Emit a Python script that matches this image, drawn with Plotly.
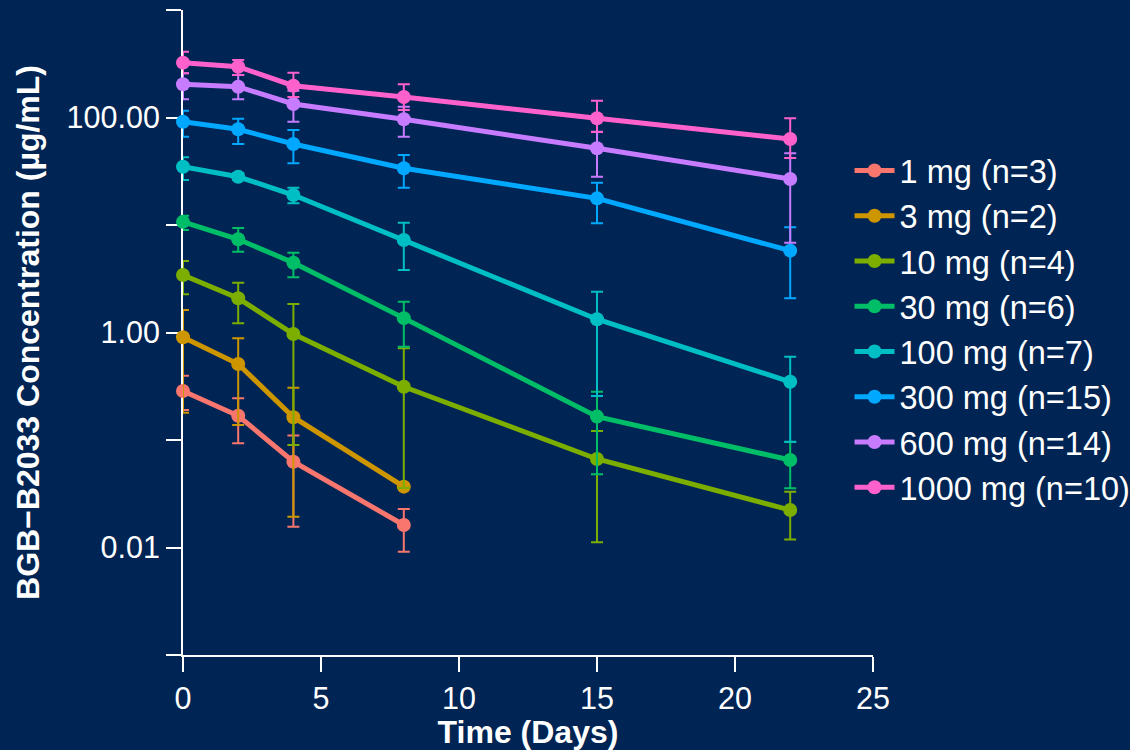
import plotly.graph_objects as go

# ---------------- data ----------------
times_full = [0, 2, 4, 8, 15, 22]
times_short = [0, 2, 4, 8]

dose_labels = ["1 mg (n=3)", "3 mg (n=2)", "10 mg (n=4)", "30 mg (n=6)",
               "100 mg (n=7)", "300 mg (n=15)", "600 mg (n=14)", "1000 mg (n=10)"]

colors = ["#F8766D", "#CD9600", "#7CAE00", "#00BE67",
          "#00BFC4", "#00A9FF", "#C77CFF", "#FF61CC"]

mean_1mg = [0.286, 0.168, 0.0628, 0.0162]
upper_1mg = [0.396, 0.244, 0.110, 0.0228]
lower_1mg = [0.190, 0.0932, 0.0156, 0.00914]

mean_3mg = [0.902, 0.509, 0.163, 0.0368]
upper_3mg = [1.62, 0.883, 0.307, 0.0368]
lower_3mg = [0.179, 0.138, 0.0193, 0.0368]

mean_10mg = [3.43, 2.08, 0.968, 0.313, 0.0666, 0.0223]
upper_10mg = [4.63, 2.91, 1.84, 0.713, 0.121, 0.033]
lower_10mg = [2.27, 1.22, 0.0899, 0.0358, 0.0112, 0.0119]

mean_30mg = [10.7, 7.36, 4.46, 1.36, 0.165, 0.0652]
upper_30mg = [12.2, 9.38, 5.52, 1.93, 0.281, 0.0958]
lower_30mg = [8.99, 5.64, 3.26, 0.738, 0.048, 0.0355]

mean_100mg = [34.8, 28.1, 19.0, 7.25, 1.33, 0.348]
upper_100mg = [42.6, 30.5, 22.2, 10.5, 2.40, 0.595]
lower_100mg = [26.2, 26.2, 15.9, 3.81, 0.257, 0.0964]

mean_300mg = [91.4, 77.7, 56.7, 33.7, 17.7, 5.77]
upper_300mg = [115.7, 97.4, 76.5, 44.8, 24.7, 9.52]
lower_300mg = [66.3, 56.7, 37.5, 22.2, 10.4, 2.08]

mean_600mg = [203.6, 193.4, 133.6, 96.2, 51.7, 26.8]
upper_600mg = [257.8, 248.5, 177.6, 126.1, 73.8, 46.5]
lower_600mg = [147.7, 147.7, 91.4, 66.3, 28.1, 6.84]

mean_1000mg = [323.6, 296.9, 197.6, 155.1, 98.3, 63.1]
upper_1000mg = [409.5, 342.6, 261.1, 203.6, 143.3, 98.3]
lower_1000mg = [257.8, 248.5, 155.1, 117.4, 73.3, 42.0]

y_tick_values = [0.001, 0.01, 0.1, 1, 10, 100, 1000]
y_tick_text = ["", "0.01", "", "1.00", "", "100.00", ""]
x_tick_values = [0, 5, 10, 15, 20, 25]

series = [
    (times_short, mean_1mg, upper_1mg, lower_1mg),
    (times_short, mean_3mg, upper_3mg, lower_3mg),
    (times_full, mean_10mg, upper_10mg, lower_10mg),
    (times_full, mean_30mg, upper_30mg, lower_30mg),
    (times_full, mean_100mg, upper_100mg, lower_100mg),
    (times_full, mean_300mg, upper_300mg, lower_300mg),
    (times_full, mean_600mg, upper_600mg, lower_600mg),
    (times_full, mean_1000mg, upper_1000mg, lower_1000mg),
]

BG = "#002453"
FONT = "Liberation Sans, Arial, sans-serif"

fig = go.Figure()
for (t, m, up, lo), name, col in zip(series, dose_labels, colors):
    fig.add_trace(go.Scatter(
        x=t, y=m, name=name, mode="lines+markers",
        line=dict(color=col, width=5),
        marker=dict(color=col, size=14),
        error_y=dict(type="data", symmetric=False,
                     array=[u - v for u, v in zip(up, m)],
                     arrayminus=[v - l for v, l in zip(m, lo)],
                     color=col, thickness=2, width=6),
        cliponaxis=False,
    ))

fig.update_layout(
    width=1130, height=750,
    paper_bgcolor=BG, plot_bgcolor=BG,
    margin=dict(l=183, r=257, t=10, b=95, autoexpand=False),
    font=dict(family=FONT, color="white", size=30),
    showlegend=True,
    legend=dict(x=0.966, y=0.794, xanchor="left", yanchor="top",
                font=dict(size=32.5, color="white"), bgcolor="rgba(0,0,0,0)",
                itemwidth=40, tracegroupgap=0),
)
fig.update_xaxes(
    range=[0, 25], tickvals=x_tick_values, showline=True, linecolor="white",
    linewidth=2, ticks="outside", ticklen=15, tickwidth=2, tickcolor="white",
    showgrid=False, zeroline=False, layer="below traces",
    tickfont=dict(size=30.5, color="white", family=FONT),
    title=dict(text="<b>Time (Days)</b>", font=dict(size=32, color="white", family=FONT), standoff=0),
)
fig.update_yaxes(
    type="log", range=[-3, 3], tickvals=y_tick_values, ticktext=y_tick_text,
    showline=True, linecolor="white", linewidth=2, ticks="outside", ticklen=15,
    tickwidth=2, tickcolor="white", showgrid=False, zeroline=False,
    layer="below traces", ticklabelstandoff=0,
    tickfont=dict(size=30.5, color="white", family=FONT),
    title=dict(text="<b>BGB\u2212B2033 Concentration (\u00b5g/mL)</b>",
               font=dict(size=32, color="white", family=FONT), standoff=17),
)

fig.write_html("out.html", config={"displayModeBar": False},
               post_script="document.body.style.margin='0';")
